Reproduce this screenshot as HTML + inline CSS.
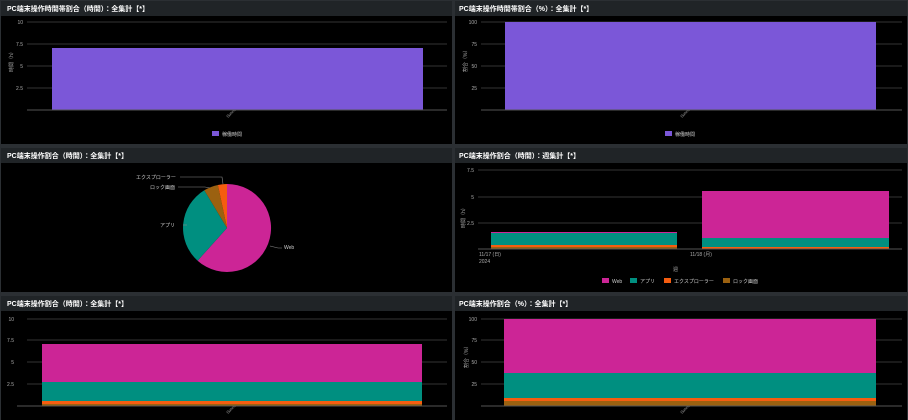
<!DOCTYPE html>
<html><head><meta charset="utf-8"><style>
html,body{margin:0;padding:0;background:#2a2e33;width:908px;height:420px;overflow:hidden}
svg{display:block;font-family:"Liberation Sans","Noto Sans CJK JP",sans-serif}
</style></head><body>
<svg width="908" height="420" viewBox="0 0 908 420">
<rect width="908" height="420" fill="#2b2f33"/>
<!-- panels -->
<g>
<rect x="1" y="1" width="451" height="143" fill="#000"/><rect x="1" y="1" width="451" height="15" fill="#202427"/>
<rect x="455" y="1" width="452" height="143" fill="#000"/><rect x="455" y="1" width="452" height="15" fill="#202427"/>
<rect x="1" y="148" width="451" height="144" fill="#000"/><rect x="1" y="148" width="451" height="15" fill="#202427"/>
<rect x="455" y="148" width="452" height="144" fill="#000"/><rect x="455" y="148" width="452" height="15" fill="#202427"/>
<rect x="1" y="296" width="451" height="124" fill="#000"/><rect x="1" y="296" width="451" height="15" fill="#202427"/>
<rect x="455" y="296" width="452" height="124" fill="#000"/><rect x="455" y="296" width="452" height="15" fill="#202427"/>
</g>
<g fill="#fff" font-size="7" font-weight="bold">
<text x="7" y="11">PC端末操作時間帯割合（時間）：全集計【*】</text>
<text x="459" y="11">PC端末操作時間帯割合（%）：全集計【*】</text>
<text x="7" y="158">PC端末操作割合（時間）：全集計【*】</text>
<text x="459" y="158">PC端末操作割合（時間）：週集計【*】</text>
<text x="7" y="306">PC端末操作割合（時間）：全集計【*】</text>
<text x="459" y="306">PC端末操作割合（%）：全集計【*】</text>
</g>
<g stroke="#333" stroke-width="1">
<line x1="27" y1="22" x2="447" y2="22"/><line x1="27" y1="44" x2="447" y2="44"/><line x1="27" y1="66" x2="447" y2="66"/><line x1="27" y1="88" x2="447" y2="88"/>
<line x1="481" y1="22" x2="902" y2="22"/><line x1="481" y1="44" x2="902" y2="44"/><line x1="481" y1="66" x2="902" y2="66"/><line x1="481" y1="88" x2="902" y2="88"/>
<line x1="478" y1="170" x2="902" y2="170"/><line x1="478" y1="197" x2="902" y2="197"/><line x1="478" y1="223" x2="902" y2="223"/>
<line x1="27" y1="319" x2="447" y2="319"/><line x1="27" y1="340" x2="447" y2="340"/><line x1="27" y1="362" x2="447" y2="362"/><line x1="27" y1="384" x2="447" y2="384"/>
<line x1="481" y1="319" x2="902" y2="319"/><line x1="481" y1="340" x2="902" y2="340"/><line x1="481" y1="362" x2="902" y2="362"/><line x1="481" y1="384" x2="902" y2="384"/>
</g>
<g fill="#aaa" font-size="5" text-anchor="end">
<text x="23" y="24">10</text><text x="23" y="46">7.5</text><text x="23" y="68">5</text><text x="23" y="90">2.5</text>
<text x="477" y="24">100</text><text x="477" y="46">75</text><text x="477" y="68">50</text><text x="477" y="90">25</text>
<text x="474" y="172">7.5</text><text x="474" y="199">5</text><text x="474" y="225">2.5</text>
<text x="14" y="321">10</text><text x="14" y="342">7.5</text><text x="14" y="364">5</text><text x="14" y="386">2.5</text>
<text x="477" y="321">100</text><text x="477" y="342">75</text><text x="477" y="364">50</text><text x="477" y="386">25</text>
</g>
<g fill="#aaa" font-size="5">
<text transform="translate(13,72) rotate(-90)">時間（h）</text>
<text transform="translate(467,72) rotate(-90)">割合（%）</text>
<text transform="translate(465,228) rotate(-90)">時間（h）</text>
<text transform="translate(468,368) rotate(-90)">割合（%）</text>
<text transform="translate(228,118) rotate(-45)" font-size="4">Sunrise_text</text>
<text transform="translate(682,118) rotate(-45)" font-size="4">Sunrise_text</text>
<text transform="translate(228,414) rotate(-45)" font-size="4">Sunrise_text</text>
<text transform="translate(682,414) rotate(-45)" font-size="4">Sunrise_text</text>
<text x="479" y="256">11/17 (日)</text><text x="479" y="263">2024</text>
<text x="690" y="256">11/18 (月)</text>
<text x="673" y="271">週</text>
</g>
<!-- panel1 -->
<rect x="52" y="48" width="371" height="62" fill="#7b57d8"/>
<line x1="27" y1="110" x2="447" y2="110" stroke="#555"/>
<rect x="212" y="131" width="7" height="5" fill="#7b57d8"/><text x="222" y="136" fill="#ccc" font-size="5">稼働時間</text>
<!-- panel2 -->
<rect x="505" y="22" width="371" height="88" fill="#7b57d8"/>
<line x1="481" y1="110" x2="902" y2="110" stroke="#555"/>
<rect x="665" y="131" width="7" height="5" fill="#7b57d8"/><text x="675" y="136" fill="#ccc" font-size="5">稼働時間</text>
<!-- pie -->
<g transform="translate(227,228)">
<path d="M0,0 L0,-44 A44,44 0 1,1 -29.4,32.7 Z" fill="#cc2596"/>
<path d="M0,0 L-29.4,32.7 A44,44 0 0,1 -22.7,-37.7 Z" fill="#008f80"/>
<path d="M0,0 L-22.7,-37.7 A44,44 0 0,1 -9.1,-43 Z" fill="#9b6110"/>
<path d="M0,0 L-9.1,-43 A44,44 0 0,1 0,-44 Z" fill="#f55d10"/>
</g>
<g stroke="#888" stroke-width="0.6" fill="none">
<polyline points="270,246 278,248 282,248"/>
<polyline points="187,225 183,225"/>
<polyline points="210,188 205,187 178,187"/>
<polyline points="223,184 222,177 180,177"/>
</g>
<g fill="#ccc" font-size="5">
<text x="284" y="249">Web</text>
<text x="160" y="227">アプリ</text>
<text x="150" y="189">ロック画面</text>
<text x="136" y="179">エクスプローラー</text>
</g>
<!-- panel4 -->
<rect x="491" y="232" width="186" height="13" fill="#008f80"/><rect x="491" y="232" width="186" height="1" fill="#cc2596"/>
<rect x="491" y="245" width="186" height="2" fill="#f55d10"/><rect x="491" y="247" width="186" height="2" fill="#9b6110"/>
<rect x="702" y="191" width="187" height="47" fill="#cc2596"/><rect x="702" y="238" width="187" height="9" fill="#008f80"/>
<rect x="702" y="247" width="187" height="2" fill="#f55d10"/>
<line x1="478" y1="249" x2="902" y2="249" stroke="#555"/>
<g font-size="5" fill="#ccc">
<rect x="602" y="278" width="7" height="5" fill="#cc2596"/><text x="612" y="283">Web</text>
<rect x="630" y="278" width="7" height="5" fill="#008f80"/><text x="640" y="283">アプリ</text>
<rect x="664" y="278" width="7" height="5" fill="#f55d10"/><text x="674" y="283">エクスプローラー</text>
<rect x="723" y="278" width="7" height="5" fill="#9b6110"/><text x="733" y="283">ロック画面</text>
</g>
<!-- panel5 -->
<rect x="42" y="344" width="380" height="38" fill="#cc2596"/><rect x="42" y="382" width="380" height="19" fill="#008f80"/>
<rect x="42" y="401" width="380" height="3" fill="#f55d10"/><rect x="42" y="404" width="380" height="2" fill="#9b6110"/>
<line x1="17" y1="406" x2="447" y2="406" stroke="#555"/>
<!-- panel6 -->
<rect x="504" y="319" width="372" height="54" fill="#cc2596"/><rect x="504" y="373" width="372" height="25" fill="#008f80"/>
<rect x="504" y="398" width="372" height="3" fill="#f55d10"/><rect x="504" y="401" width="372" height="5" fill="#9b6110"/>
<line x1="481" y1="406" x2="902" y2="406" stroke="#555"/>
</svg>
</body></html>
